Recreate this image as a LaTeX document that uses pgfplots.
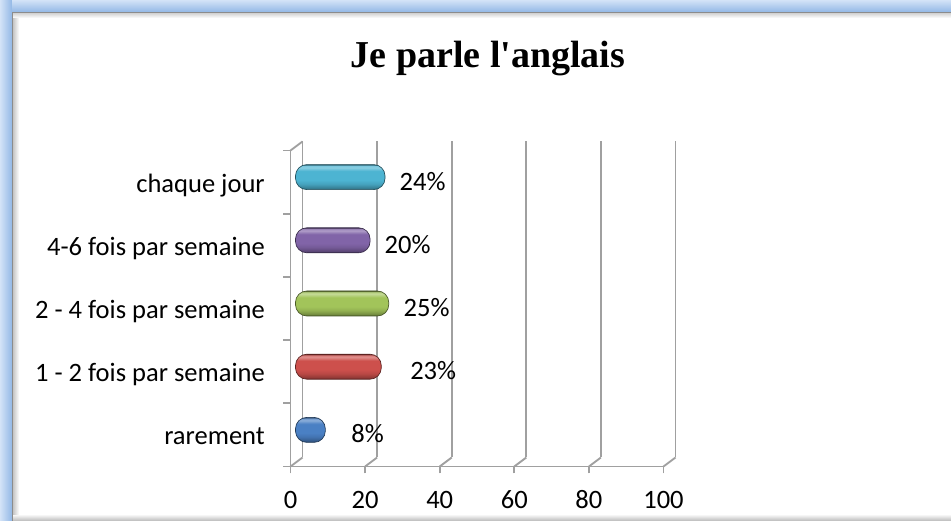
\documentclass[border=0pt]{standalone}
\usepackage{fontspec}
\setmainfont{Carlito}
\newfontfamily\titlefont{Liberation Serif}
\usepackage{pgfplots}
\pgfplotsset{compat=1.18}
\definecolor{gridc}{HTML}{A0A0A0}
\definecolor{frameL}{HTML}{D3E3F7}
\definecolor{frameD}{HTML}{93B8E6}
\definecolor{cBlue}{HTML}{4A80C4}
\definecolor{cRed}{HTML}{CD504C}
\definecolor{cGreen}{HTML}{A2C45A}
\definecolor{cPurple}{HTML}{8164A8}
\definecolor{cCyan}{HTML}{4DB4D2}
\newcommand\cylshade[1]{%
  \pgfdeclareverticalshading{cyl#1}{100bp}{%
    color(0bp)=(#1!45!black); color(25bp)=(#1!45!black);
    color(28bp)=(#1!70!black); color(36bp)=(#1!90!black);
    color(44bp)=(#1); color(62bp)=(#1);
    color(69bp)=(#1!65!white); color(72.5bp)=(#1!75!white);
    color(75bp)=(#1!55!black); color(100bp)=(#1!55!black)}}
\cylshade{cBlue}\cylshade{cRed}\cylshade{cGreen}\cylshade{cPurple}\cylshade{cCyan}
\newcommand\lblfont{\fontsize{19.9}{24}\selectfont}
\pgfplotsset{
  /pgf/number format/assume math mode=true,
  cyl/.style={xbar, bar width=18.75pt, bar shift=3.75pt, xshift=3.75pt,
    rounded corners=8.5pt, line width=0.5pt,
    draw=#1!45!black, shade, shading=cyl#1,
    point meta=x, nodes near coords={\pgfmathprintnumber[assume math mode=true]{\pgfplotspointmeta}\%},
    every node near coord/.append style={anchor=base west, inner sep=0pt, font=\lblfont, text=black}},
}
\begin{document}
\begin{tikzpicture}[x=0.75pt,y=0.75pt]
\useasboundingbox (0,0) rectangle (951,521);
% frame
\fill[frameD] (0,0) rectangle (951,521);
\shade[left color=frameL, right color=frameD] (0,0) rectangle (12,521);
\shade[top color=frameL, bottom color=frameD] (12,509) rectangle (951,521);
\fill[white] (12,0) rectangle (951,509);
\shade[left color=gray!45, right color=white] (13,0) rectangle (19,508);
\shade[top color=gray!35, bottom color=white] (13,503) rectangle (951,508);
\shade[top color=gray!15, bottom color=gray!55] (12,0) rectangle (951,5);
\draw[gray!90, line width=1.2pt] (12.5,0) -- (12.5,508.5) -- (951,508.5);
% title
\node[anchor=base, inner sep=0pt] at (488,453) {\titlefont\bfseries\fontsize{28.5}{34}\selectfont Je parle l'anglais};
\begin{axis}[
  at={(217.875pt,40.875pt)}, anchor=south west, scale only axis,
  width=279.75pt, height=237pt,
  xmin=0, xmax=100, ymin=-0.5, ymax=4.5,
  clip=false,
  axis x line*=bottom, axis y line*=left,
  axis line style={gridc, line width=1.4pt},
  xtick={0,20,40,60,80,100},
  xtick align=outside,
  major tick length=5.25pt,
  xtick style={gridc, line width=1.4pt},
  ytick={0,1,2,3,4},
  yticklabels={rarement, 1 - 2 fois par semaine, 2 - 4 fois par semaine, 4-6 fois par semaine, chaque jour},
  ytick style={draw=none},
  xmajorgrids,
  major grid style={gridc, line width=1.4pt, xshift=9pt, yshift=6.75pt},
  xticklabel style={font=\lblfont, anchor=base, inner sep=0pt, yshift=-26.3pt},
  yticklabel style={font=\lblfont, anchor=base east, inner sep=0pt, xshift=-19.1pt, yshift=-7.5pt},
]
\pgfplotsinvokeforeach{-0.5,0.5,1.5,2.5,3.5,4.5}{
  \draw[gridc, line width=1.4pt] (axis cs:0,#1) -- ++(-5.25pt,0pt);
}
\pgfplotsinvokeforeach{0,20,40,60,80,100}{
  \draw[gridc, line width=1.4pt] (axis cs:#1,-0.5) -- ++(9pt,6.75pt);
}
\draw[gridc, line width=1.4pt] (axis cs:0,4.5) -- ++(9pt,6.75pt);
\addplot[cyl=cBlue, every node near coord/.append style={xshift=19.3pt, yshift=-6pt}] coordinates {(8,0)};
\addplot[cyl=cRed, every node near coord/.append style={xshift=21.5pt, yshift=-6pt}] coordinates {(23,1)};
\addplot[cyl=cGreen, every node near coord/.append style={xshift=10.9pt, yshift=-6pt}] coordinates {(25,2)};
\addplot[cyl=cPurple, every node near coord/.append style={xshift=10.7pt, yshift=-6pt}] coordinates {(20,3)};
\addplot[cyl=cCyan, every node near coord/.append style={xshift=10.7pt, yshift=-6pt}] coordinates {(24,4)};
\end{axis}
\end{tikzpicture}
\end{document}
